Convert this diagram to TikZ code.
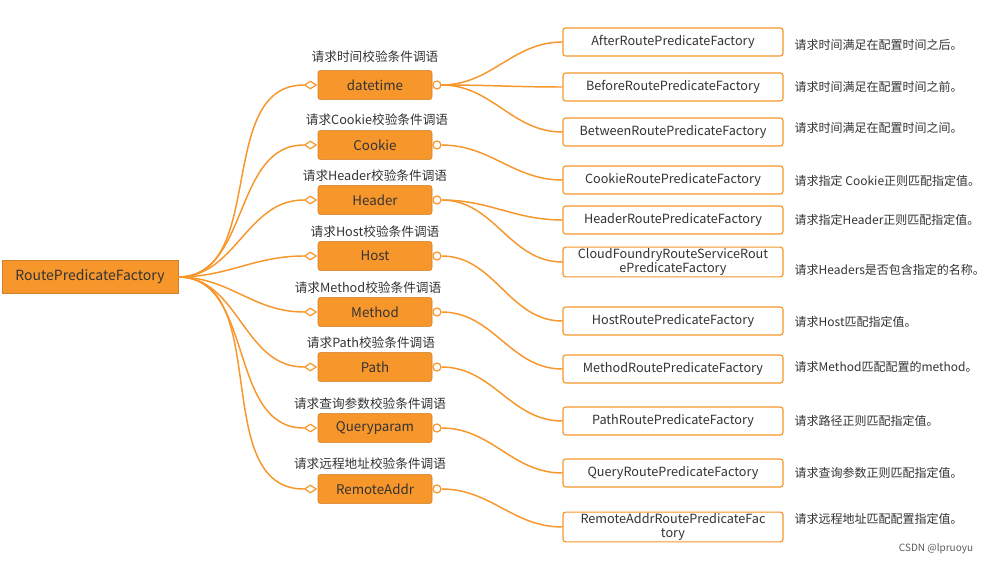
\documentclass[tikz,border=0pt]{standalone}
\usepackage{fontspec}
\setmainfont{Noto Sans CJK SC}
\usetikzlibrary{shapes.geometric}
\definecolor{org}{HTML}{F7962B}
\definecolor{txt}{HTML}{333333}
\begin{document}
\begin{tikzpicture}[x=0.75pt,y=-0.75pt,
 mid/.style={fill=org,draw=org!85!black,line width=0.4pt,rounded corners=2pt,minimum width=85.5pt,minimum height=22pt,font=\fontsize{10}{12}\selectfont,text=txt,inner sep=0pt},
 leaf/.style={fill=white,draw=org,line width=0.9pt,rounded corners=2pt,minimum width=165pt,minimum height=21pt,font=\fontsize{9.5}{10.5}\selectfont,text=txt,align=center,inner sep=1pt},
 lab/.style={font=\fontsize{9.5}{11}\selectfont,text=txt},
 desc/.style={font=\fontsize{9}{11}\selectfont,text=txt,anchor=west},
 con/.style={draw=org,line width=1.1pt},
 dia/.style={diamond,draw=org,fill=white,line width=0.9pt,minimum width=9pt,minimum height=6pt,inner sep=0pt},
 circ/.style={circle,draw=org,fill=white,line width=0.9pt,minimum size=6pt,inner sep=0pt}]
\useasboundingbox (0,0) rectangle (995,566);
\node[fill=org,draw=org!85!black,minimum width=132pt,minimum height=25pt,font=\fontsize{10.5}{12}\selectfont,text=txt,inner sep=0pt] (root) at (90,277) {RoutePredicateFactory};
\foreach \n/\t/\y/\w in {m1/datetime/85/114,m2/Cookie/145/114,m3/Header/200/114,m4/Host/256/114,m5/Method/312/114,m6/Path/367/114,m7/Queryparam/428/114,m8/RemoteAddr/489/114}{
 \node[mid] (\n) at (375,\y) {\t};
 \node[dia] (d\n) at ([xshift=-5.5pt]\n.west) {};
 \node[circ] (c\n) at ([xshift=3.5pt]\n.east) {};
 \draw[con] (root.east) to[out=0,in=180] (d\n.west);
}
\node[lab] (l1) at (375,57) {请求时间校验条件调语};
\node[lab] (l2) at (377,120) {请求Cookie校验条件调语};
\node[lab] (l3) at (375,176) {请求Header校验条件调语};
\node[lab] (l4) at (375,232) {请求Host校验条件调语};
\node[lab] (l5) at (368,288) {请求Method校验条件调语};
\node[lab] (l6) at (371,343) {请求Path校验条件调语};
\node[lab] (l7) at (370,404) {请求查询参数校验条件调语};
\node[lab] (l8) at (370,464) {请求远程地址校验条件调语};
\foreach \n/\t/\y/\src/\d/\dy in {
 r1/AfterRoutePredicateFactory/42/m1/请求时间满足在配置时间之后。/45,
 r2/BeforeRoutePredicateFactory/87/m1/请求时间满足在配置时间之前。/87,
 r3/BetweenRoutePredicateFactory/132/m1/请求时间满足在配置时间之间。/128,
 r4/CookieRoutePredicateFactory/180/m2/请求指定 Cookie正则匹配指定值。/181,
 r5/HeaderRoutePredicateFactory/220/m3/请求指定Header正则匹配指定值。/220,
 r6/{CloudFoundryRouteServiceRout\\ePredicateFactory}/262/m3/请求Headers是否包含指定的名称。/270,
 r7/HostRoutePredicateFactory/321/m4/请求Host匹配指定值。/322,
 r8/MethodRoutePredicateFactory/369/m5/请求Method匹配配置的method。/367,
 r9/PathRoutePredicateFactory/421/m6/请求路径正则匹配指定值。/421,
 r10/QueryRoutePredicateFactory/473/m7/请求查询参数正则匹配指定值。/473,
 r11/{RemoteAddrRoutePredicateFac\\tory}/527/m8/请求远程地址匹配配置指定值。/519}{
 \node[leaf] (\n) at (673,\y) {\t};
 \draw[con] (c\src.east) to[out=0,in=180] (\n.west);
 \node[desc] (t\n) at (790,\dy) {\d};
}
\node[font=\fontsize{7.5}{9}\selectfont,text=txt!80] (wm) at (936,549) {CSDN @lpruoyu};
\end{tikzpicture}
\end{document}
